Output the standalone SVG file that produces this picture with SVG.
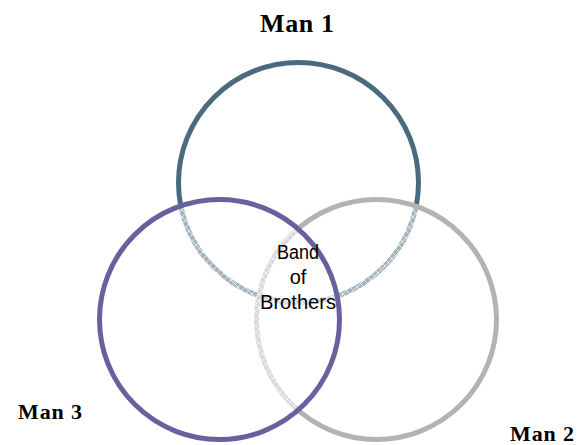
<svg xmlns="http://www.w3.org/2000/svg" width="579" height="445" viewBox="0 0 579 445">
<defs>
<pattern id="hatch" patternUnits="userSpaceOnUse" width="7" height="7">
<rect width="7" height="7" fill="#ffffff" fill-opacity="0.5"/>
<path d="M0,0 L7,7 M7,0 L0,7" stroke="#ffffff" stroke-opacity="0.75" stroke-width="0.9"/>
</pattern>
</defs>
<style>
.ring{fill:url(#hatch);stroke-width:5}
.lbl{font-family:"Liberation Serif","Times New Roman",serif;font-weight:bold;fill:#000}
.ctr{font-family:"Liberation Sans",Arial,sans-serif;font-size:20px;fill:#000;text-anchor:middle}
</style>
<rect width="579" height="445" fill="#ffffff"/>
<g id="man1">
<circle class="ring" cx="298.5" cy="182.5" r="120" stroke="#4A6B7D"/>
<text class="lbl" x="260" y="31.5" font-size="26" textLength="74" lengthAdjust="spacing">Man 1</text>
</g>
<g id="man2">
<circle class="ring" cx="376.5" cy="319.5" r="120" stroke="#B3B3B3"/>
<text class="lbl" x="510" y="441" font-size="22" textLength="64" lengthAdjust="spacing">Man 2</text>
</g>
<g id="man3">
<circle class="ring" cx="219.5" cy="319.5" r="120" stroke="#66629E"/>
<text class="lbl" x="18" y="419" font-size="22" textLength="64" lengthAdjust="spacing">Man 3</text>
</g>
<g id="center">
<text class="ctr" x="298" y="259" textLength="42" lengthAdjust="spacingAndGlyphs">Band</text>
<text class="ctr" x="298" y="284">of</text>
<text class="ctr" x="298" y="309" textLength="76" lengthAdjust="spacingAndGlyphs">Brothers</text>
</g>
<g id="connectors"/>
</svg>
